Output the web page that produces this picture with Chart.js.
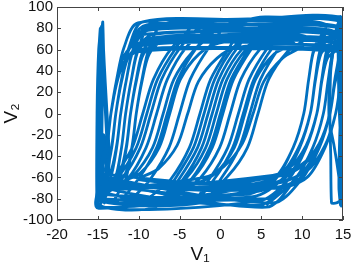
<!DOCTYPE html>
<html>
<head>
<meta charset="utf-8">
<script src="https://cdn.jsdelivr.net/npm/chart.js@4/dist/chart.umd.min.js"></script>
<style>
html,body{margin:0;padding:0;background:#fff;}
canvas{display:block;}
</style>
</head>
<body>
<canvas id="c" width="356" height="269"></canvas>
<script>
// Tick labels
const xTicks = [-20, -15, -10, -5, 0, 5, 10, 15];
const yTicks = [-100, -80, -60, -40, -20, 0, 20, 40, 60, 80, 100];

// Main trajectory (V1, V2)
const loopV1 = [
  5.6, 9.1, 11.3, 12.6, 13.2, 13.9, 14.9, 2.7, -9.5, -11.2, -12.1, -12.8, -13.3, -14.1, -14.9,
  -8.0, -5.6, -3.3, -2.0, -0.7, 1.6, 4.0, -2.5, -9.5, -11.2, -12.1, -12.8, -13.3, -14.1, -14.9,
  4.8, 8.3, 10.5, 11.8, 12.4, 13.1, 14.4, 2.5, -8.9, -10.6, -11.5, -12.2, -12.7, -13.5, -14.8,
  -2.4, 0.0, 2.3, 3.6, 4.9, 7.2, 9.6, 1.2, -7.0, -8.7, -9.6, -10.3, -10.8, -11.6, -12.9,
  -7.0, -4.6, -2.3, -1.0, 0.3, 2.6, 5.0, -1.8, -8.9, -10.6, -11.5, -12.2, -12.7, -13.5, -14.8,
  4.0, 7.5, 9.7, 11.0, 11.6, 12.3, 13.6, 2.6, -8.9, -10.6, -11.5, -12.2, -12.7, -13.5, -14.8,
  -12.5, -10.1, -7.8, -6.5, -5.2, -2.9, -0.5, -5.1, -9.5, -11.2, -12.1, -12.8, -13.3, -14.1, -14.9,
  -3.2, -0.8, 1.5, 2.8, 4.1, 6.4, 8.8, 3.2, -2.5, -4.9, -7.2, -8.5, -9.8, -12.1, -14.5,
  4.0, 7.5, 9.7, 11.0, 11.6, 12.3, 13.6, 2.0, -8.3, -10.0, -10.9, -11.6, -12.1, -12.9, -14.2,
  -3.8, -1.4, 0.9, 2.2, 3.5, 5.8, 8.2, 4.6, 1.0, -1.4, -3.7, -5.0, -6.3, -8.6, -11.0,
  -6.0, -3.6, -1.3, 0.0, 1.3, 3.6, 6.0, -1.2, -8.3, -10.0, -10.9, -11.6, -12.1, -12.9, -14.2,
  3.2, 6.7, 8.9, 10.2, 10.8, 11.5, 12.8, 5.6, -1.8, -4.2, -6.5, -7.8, -9.1, -11.4, -13.8,
  5.6, 9.1, 11.3, 12.6, 13.2, 13.9, 14.9, 9.2, 3.5, 1.1, -1.2, -2.5, -3.8, -6.1, -8.5,
  3.2, 6.7, 8.9, 10.2, 10.8, 11.5, 12.8, 2.2, -7.7, -9.4, -10.3, -11.0, -11.5, -12.3, -13.6,
  -2.0, 0.4, 2.7, 4.0, 5.3, 7.6, 10.0, 0.0, -9.5, -11.2, -12.1, -12.8, -13.3, -14.1, -14.9,
  -1.4, 1.0, 3.3, 4.6, 5.9, 8.2, 10.6, 4.8, -1.0, -3.4, -5.7, -7.0, -8.3, -10.6, -13.0,
  4.8, 8.3, 10.5, 11.8, 12.4, 13.1, 14.4, 9.5, 4.5, 2.1, -0.2, -1.5, -2.8, -5.1, -7.5,
  -4.8, -2.4, -0.1, 1.2, 2.5, 4.8, 7.2, 6.4, 5.5, 3.1, 0.8, -0.5, -1.8, -4.1, -6.5,
  -3.0, -0.6, 1.7, 3.0, 4.3, 6.6, 9.0, 3.5, -0.2, -2.6, -4.9, -6.2, -7.5, -9.8, -12.2,
  5.6, 9.1, 11.3, 12.6, 13.2, 13.9, 14.9, 5.0, -3.5, -5.9, -8.2, -9.5, -10.8, -13.1, -14.9,
  6.4, 9.9, 12.1, 13.4, 14.0, 14.7, 14.9, 10.6, 6.3, 3.9, 1.6, 0.3, -1.0, -3.3, -5.7,
  4.8, 8.3, 10.5, 11.8, 12.4, 13.1, 14.4, 8.0, 2.0, -0.4, -2.7, -4.0, -5.3, -7.6, -10.0,
  4.0, 7.5, 9.7, 11.0, 11.6, 12.3, 13.6, 3.2, -7.0, -8.7, -9.6, -10.3, -10.8, -11.6, -12.9,
  3.2, 6.7, 8.9, 10.2, 10.8, 11.5, 12.8, 3.2, -3.0, -5.4, -7.7, -9.0, -10.3, -12.6, -14.9,
  6.4, 9.9, 12.1, 13.4, 14.0, 14.7, 14.9, 2.4, -10.1, -11.8, -12.7, -13.4, -13.9, -14.7, -14.9,
  6.4, 9.9, 12.1, 13.4, 14.0, 14.7, 14.9, 3.0, -10.1, -11.8, -12.7, -13.4, -13.9, -14.7, -14.9,
  7.1, 10.6, 12.8, 14.1, 14.7, 14.9, 14.9, 2.5, -10.1, -11.8, -12.7, -13.4, -13.9, -14.7, -14.9,
  7.1, 10.6, 12.8, 14.1, 14.7, 14.9, 14.9, 2.8, -9.5, -11.2, -12.1, -12.8, -13.3, -14.1, -14.9,
  6.4, 9.9, 12.1, 13.4, 14.0, 14.7, 14.9, 0.0, -10.1, -11.8, -12.7, -13.4, -13.9, -14.7, -14.9,
  4.8, 8.3, 10.5, 11.8, 12.4, 13.1, 14.4, 2.0, -7.7, -9.4, -10.3, -11.0, -11.5, -12.3, -13.6,
  6.4, 9.9, 12.1, 13.4, 14.0, 14.7, 14.9, 3.0, -8.9, -10.6, -11.5, -12.2, -12.7, -13.5, -14.8,
  5.6, 9.1, 11.3, 12.6, 13.2, 13.9, 14.9, 2.5, -8.3, -10.0, -10.9, -11.6, -12.1, -12.9, -14.2
];
const loopV2 = [
  -86, -62, -32, 0, 32, 62, 86, 88, 86, 62, 32, 0, -32, -62, -86,
  -88, -62, -32, 0, 32, 62, 78, 82, 78, 62, 32, 0, -32, -62, -88,
  -82, -62, -32, 0, 32, 62, 82, 84, 82, 62, 32, 0, -32, -62, -82,
  -84, -62, -32, 0, 32, 62, 84, 87, 84, 62, 32, 0, -32, -62, -84,
  -80, -62, -32, 0, 32, 60, 70, 74, 70, 60, 32, 0, -32, -62, -80,
  -78, -62, -32, 0, 32, 62, 78, 80, 78, 62, 32, 0, -32, -62, -78,
  -82, -62, -32, 0, 32, 62, 82, 85, 82, 62, 32, 0, -32, -62, -82,
  -80, -62, -32, 0, 32, 62, 80, 83, 80, 62, 32, 0, -32, -62, -80,
  -74, -62, -32, 0, 32, 62, 74, 77, 74, 62, 32, 0, -32, -62, -74,
  -84, -62, -32, 0, 32, 62, 84, 87, 84, 62, 32, 0, -32, -62, -84,
  -76, -62, -32, 0, 32, 62, 86, 88, 86, 62, 32, 0, -32, -62, -76,
  -76, -62, -32, 0, 32, 62, 76, 79, 76, 62, 32, 0, -32, -62, -76,
  -80, -62, -32, 0, 32, 62, 88, 90, 88, 62, 32, 0, -32, -62, -80,
  -70, -60, -32, 0, 32, 60, 70, 73, 70, 60, 32, 0, -32, -60, -70,
  -60, -50, -28, 0, 30, 52, 64, 67, 64, 54, 30, 0, -30, -52, -60,
  -72, -58, -32, 0, 32, 58, 72, 75, 72, 58, 32, 0, -32, -58, -72,
  -86, -62, -32, 0, 32, 62, 80, 83, 80, 62, 32, 0, -32, -62, -86,
  -74, -60, -32, 0, 32, 60, 74, 77, 74, 60, 32, 0, -32, -60, -74,
  -66, -56, -32, 0, 32, 56, 66, 69, 66, 56, 32, 0, -32, -56, -66,
  -88, -62, -32, 0, 32, 62, 76, 80, 76, 62, 32, 0, -32, -62, -88,
  -70, -60, -32, 0, 32, 62, 86, 89, 86, 62, 32, 0, -32, -60, -70,
  -62, -52, -30, 0, 30, 52, 62, 65, 62, 52, 30, 0, -30, -52, -62,
  -66, -56, -30, 0, 30, 56, 68, 72, 68, 56, 30, 0, -30, -56, -66,
  -72, -60, -32, 0, 32, 62, 84, 87, 84, 62, 32, 0, -32, -60, -72,
  -58, -48, -28, 0, 28, 48, 60, 62, 60, 48, 28, 0, -28, -48, -58,
  -84, -62, -32, 0, 32, 62, 90, 88, 85, 62, 32, 0, -32, -62, -89,
  -64, -54, -30, 0, 30, 54, 66, 69, 66, 54, 30, 0, -30, -54, -64,
  -70, -60, -32, 0, 32, 60, 74, 77, 74, 60, 32, 0, -32, -60, -70,
  -60, -50, -28, 0, 28, 48, 58, 61, 58, 48, 28, 0, -28, -48, -56,
  -68, -58, -30, 0, 30, 56, 66, 70, 66, 56, 30, 0, -30, -56, -68,
  -66, -56, -30, 0, 32, 62, 80, 83, 80, 62, 32, 0, -30, -56, -66,
  -80, -62, -32, 0, 32, 62, 70, 73, 70, 60, 32, 0, -32, -62, -80
];

// Spikes along the left and right edges
const leftV1 = [-15.0, -14.9, -14.8, -14.6, -14.4, -14.3, -14.1, -13.8, -13.6, -13.8, -14.6, -15.1, -15.1, -14.9, -14.6, -14.4, -14.2, -13.9, -13.7, -14.3, -15.0, -15.1, -15.0, -14.7, -14.5, -14.5, -14.7, -15.0, -14.8, -14.6, -14.5, -14.4, -14.6, -14.3, -14.0, -14.2, -13.9, -13.7, -14.0];
const leftV2 = [-84, -30, 30, 70, 86, 60, 30, -10, -40, -65, -84, -86, 0, 60, 82, 60, 20, -25, -55, -80, -88, -40, 40, 80, 50, -10, -60, -85, -40, 20, 76, 40, -70, -20, -50, -84, -60, -30, -75];
const rightV1 = [14.9, 14.9, 14.8, 14.8, 14.8, 14.5, 13.9, 13.3, 13.3, 13.8, 14.6, 14.9, 14.9, 14.8, 14.6, 14.2, 13.6, 13.5, 13.4, 13.5, 14.2, 14.7, 14.3, 14.9, 14.9, 14.6, 14.5, 14.7, 14.9, 14.5, 14.4, 14.5, 14.7];
const rightV2 = [86, 30, -30, -70, -87, -60, -30, -6, 30, 62, 84, 90, 0, -60, -82, -84, -84, -40, -6, 40, 80, 91, 90, 88, 40, -20, -70, -86, -60, 10, 60, 86, 20];

const LINE = '#0070c0';
const pts = (xs, ys) => xs.map((v, i) => ({x: v, y: ys[i]}));

const boxPlugin = {
  id: 'box',
  afterDraw(chart) {
    const {ctx, chartArea: a, scales} = chart;
    ctx.save();
    ctx.strokeStyle = '#444';
    ctx.lineWidth = 1;
    ctx.strokeRect(Math.round(a.left) + 0.5, Math.round(a.top) + 0.5,
                   Math.round(a.right - a.left) - 1, Math.round(a.bottom - a.top) - 1);
    ctx.beginPath();
    xTicks.forEach(v => {
      const p = Math.round(scales.x.getPixelForValue(v)) + 0.5;
      ctx.moveTo(p, a.bottom); ctx.lineTo(p, a.bottom - 4);
      ctx.moveTo(p, a.top); ctx.lineTo(p, a.top + 4);
    });
    yTicks.forEach(v => {
      const p = Math.round(scales.y.getPixelForValue(v)) + 0.5;
      ctx.moveTo(a.left, p); ctx.lineTo(a.left + 4, p);
      ctx.moveTo(a.right, p); ctx.lineTo(a.right - 4, p);
    });
    ctx.stroke();
    ctx.restore();
  }
};

const FONT = "'Liberation Sans', Arial, Helvetica, sans-serif";
const style = (d, t) => Object.assign(d, {
  showLine: true, borderColor: LINE, backgroundColor: LINE,
  borderWidth: 2.8, pointRadius: 0, tension: t
});

new Chart(document.getElementById('c'), {
  type: 'scatter',
  data: {
    datasets: [
      style({data: pts(loopV1, loopV2)}, 0.3),
      style({data: pts(leftV1, leftV2)}, 0.15),
      style({data: pts(rightV1, rightV2)}, 0.15)
    ]
  },
  options: {
    responsive: false,
    animation: false,
    devicePixelRatio: 1,
    layout: {padding: {left: 0, right: 13, top: 7, bottom: 0}},
    plugins: {legend: {display: false}, tooltip: {enabled: false}},
    scales: {
      x: {
        type: 'linear', min: -20, max: 15,
        afterBuildTicks: s => { s.ticks = xTicks.map(v => ({value: v})); },
        afterFit: s => { s.height = 49; s.paddingLeft = 0; s.paddingRight = 0; },
        grid: {display: false, drawTicks: false}, border: {display: false},
        ticks: {color: '#111', padding: 6, font: {family: FONT, size: 15}, maxRotation: 0, autoSkip: false},
        title: {display: true, text: 'V\u2081', color: '#111', font: {family: FONT, size: 19}, padding: {top: 0, bottom: 3}}
      },
      y: {
        type: 'linear', min: -100, max: 100,
        afterBuildTicks: s => { s.ticks = yTicks.map(v => ({value: v})); },
        afterFit: s => { s.width = 57; s.paddingTop = 0; s.paddingBottom = 0; },
        grid: {display: false, drawTicks: false}, border: {display: false},
        ticks: {color: '#111', padding: 4, font: {family: FONT, size: 15}, autoSkip: false},
        title: {display: true, text: 'V\u2082', color: '#111', font: {family: FONT, size: 19}, padding: {top: 0, bottom: 0}}
      }
    }
  },
  plugins: [boxPlugin]
});
</script>
</body>
</html>
